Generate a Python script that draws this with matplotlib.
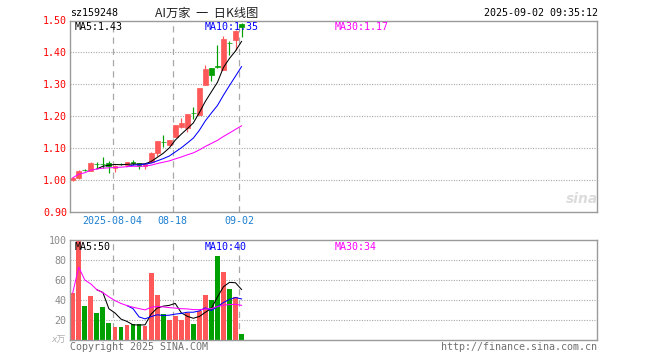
import matplotlib
matplotlib.use('Agg')
import matplotlib.pyplot as plt
import numpy as np
import pandas as pd

# ---------------- data ----------------
opens  = [1.001, 1.008, 1.033, 1.030, 1.051, 1.051, 1.053, 1.039, 1.051, 1.048,
          1.056, 1.053, 1.043, 1.057, 1.086, 1.120, 1.111, 1.136, 1.167, 1.163,
          1.210, 1.204, 1.299, 1.351, 1.356, 1.346, 1.430, 1.439, 1.490]
closes = [1.007, 1.030, 1.032, 1.055, 1.050, 1.050, 1.045, 1.045, 1.050, 1.057,
          1.055, 1.043, 1.050, 1.086, 1.121, 1.119, 1.126, 1.173, 1.180, 1.207,
          1.209, 1.288, 1.349, 1.330, 1.355, 1.443, 1.429, 1.466, 1.479]
highs  = [1.010, 1.033, 1.036, 1.056, 1.056, 1.072, 1.060, 1.047, 1.053, 1.057,
          1.063, 1.054, 1.050, 1.087, 1.122, 1.142, 1.127, 1.174, 1.194, 1.208,
          1.230, 1.289, 1.361, 1.352, 1.424, 1.450, 1.436, 1.471, 1.492]
lows   = [0.997, 1.004, 1.030, 1.029, 1.038, 1.039, 1.022, 1.025, 1.047, 1.047,
          1.048, 1.034, 1.036, 1.056, 1.076, 1.105, 1.110, 1.135, 1.163, 1.150,
          1.190, 1.203, 1.298, 1.311, 1.351, 1.345, 1.393, 1.408, 1.448]
volumes = [47, 99, 34, 44, 27, 33, 17, 13, 13, 15, 16, 16, 14, 67, 45, 26, 20, 24,
           20, 27, 16, 29, 45, 40, 84, 68, 51, 43, 6]

date_tick_idx = [7, 17, 28]
date_tick_labels = ['2025-08-04', '08-18', '09-02']
price_ticks = [0.90, 1.00, 1.10, 1.20, 1.30, 1.40, 1.50]
price_tick_labels = ['0.90', '1.00', '1.10', '1.20', '1.30', '1.40', '1.50']
vol_ticks = [20, 40, 60, 80, 100]
vol_tick_labels = ['20', '40', '60', '80', '100']

code_text = 'sz159248'
title_text = 'AI万家  一  日K线图'
time_text = '2025-09-02 09:35:12'
price_ma_labels = ['MA5:1.43', 'MA10:1.35', 'MA30:1.17']
vol_ma_labels = ['MA5:50', 'MA10:40', 'MA30:34']

# ---------------- style ----------------
RED = '#FF5858'
GREEN = '#00A000'
GRID = '#A8A8A8'
SPINE = '#9A9A9A'
MA_COLORS = ['#000000', '#0000FF', '#FF00FF']
MONO = 'DejaVu Sans Mono'
FS = 7.2

W, H = 660, 360
fig = plt.figure(figsize=(W / 100, H / 100), dpi=100)

def fx(x):
    return x / W

def fy(y):
    return 1 - y / H

L, R = 70.3, 597.3
ax1 = fig.add_axes([fx(L), fy(212), (R - L) / W, (212 - 20.5) / H])
ax2 = fig.add_axes([fx(L), fy(339.5), (R - L) / W, (339.5 - 240.3) / H])

n = len(closes)
idx = np.arange(n)
cl = pd.Series(closes)
vs = pd.Series(volumes)
price_ma = [cl.rolling(5).mean(), cl.rolling(10).mean(), cl.rolling(30, min_periods=1).mean()]
vol_ma = [vs.rolling(5).mean(), vs.rolling(10).mean(), vs.rolling(30, min_periods=1).mean()]

for ax in (ax1, ax2):
    ax.set_xlim(-0.4, 87.0)
    for s in ax.spines.values():
        s.set_color(SPINE)
        s.set_linewidth(1.0)
    ax.tick_params(axis='both', length=0)
    ax.set_xticks([])
    for i in date_tick_idx:
        ax.axvline(i - 0.4, color=GRID, lw=0.9, ls=(0, (5, 4)), zorder=0.4)

# price panel
ax1.set_ylim(0.90, 1.50)
ax1.set_yticks(price_ticks)
ax1.set_yticklabels(price_tick_labels, fontfamily=MONO, fontsize=FS, color='#FF0000')
ax1.tick_params(axis='y', pad=2.4)
for t in price_ticks[1:-1]:
    ax1.axhline(t, color=GRID, lw=0.8, ls=(0, (1, 1.3)), zorder=0.3)

for i in idx:
    o, c, h, lo = opens[i], closes[i], highs[i], lows[i]
    col = RED if c >= o else GREEN
    ax1.vlines(i, lo, h, color=col, lw=0.85, zorder=2)
    ax1.bar(i, abs(c - o), bottom=min(o, c), width=0.8, color=col,
            edgecolor=col, linewidth=0.5, zorder=2.1)

for ma, col in zip(price_ma, MA_COLORS):
    ax1.plot(idx, ma, color=col, lw=0.75, zorder=3)

# volume panel
ax2.set_ylim(0, 100)
ax2.set_yticks(vol_ticks)
ax2.set_yticklabels(vol_tick_labels, fontfamily=MONO, fontsize=FS, color='#8A8A8A')
ax2.tick_params(axis='y', pad=2.6)
for t in vol_ticks[:-1]:
    ax2.axhline(t, color=GRID, lw=0.8, ls=(0, (1, 1.3)), zorder=0.3)
vcols = [RED if closes[i] >= opens[i] else GREEN for i in idx]
ax2.bar(idx, volumes, width=0.8, color=vcols, linewidth=0, zorder=2)
for ma, col in zip(vol_ma, MA_COLORS):
    ax2.plot(idx, ma, color=col, lw=0.75, zorder=3)

# date labels
for i, lab in zip(date_tick_idx, date_tick_labels):
    ax1.text(i - 0.4, -0.045, lab, transform=ax1.get_xaxis_transform(),
             ha='center', va='center', fontfamily=MONO, fontsize=FS, color='#1C7FD2')

# MA labels
ma_x = [75, 205, 335]
for x, lab, col in zip(ma_x, price_ma_labels, MA_COLORS):
    fig.text(fx(x), fy(26.5), lab, ha='left', va='center', fontfamily=MONO,
             fontsize=FS, color=col, zorder=0.5)
for x, lab, col in zip(ma_x, vol_ma_labels, MA_COLORS):
    fig.text(fx(x), fy(247), lab, ha='left', va='center', fontfamily=MONO,
             fontsize=FS, color=col, zorder=0.5)

# titles
fig.text(fx(70), fy(13), code_text, ha='left', va='center', fontfamily=MONO,
         fontsize=FS, color='#000000')
fig.text(fx(207), fy(13), title_text, ha='center', va='center',
         fontfamily=['Noto Sans CJK SC', 'DejaVu Sans'], fontsize=8.8, color='#222222')
fig.text(fx(597.5), fy(13), time_text, ha='right', va='center', fontfamily=MONO,
         fontsize=FS, color='#000000')

# footer
fig.text(fx(70), fy(346.5), 'Copyright 2025 SINA.COM', ha='left', va='center',
         fontfamily=MONO, fontsize=FS, color='#707070')
fig.text(fx(597.5), fy(346.5), 'http://finance.sina.com.cn', ha='right', va='center',
         fontfamily=MONO, fontsize=FS, color='#707070')
fig.text(fx(66), fy(340), 'x万', ha='right', va='center',
         fontfamily=['DejaVu Sans', 'Noto Sans CJK SC'], fontsize=6.5, color='#B0B0B0',
         style='italic')

# watermark
fig.text(fx(582), fy(199), 'sina', ha='center', va='center', fontfamily='DejaVu Sans',
         fontsize=10, fontweight='bold', style='italic', color='#DCDCDC')

fig.savefig('out.png', dpi=100)
